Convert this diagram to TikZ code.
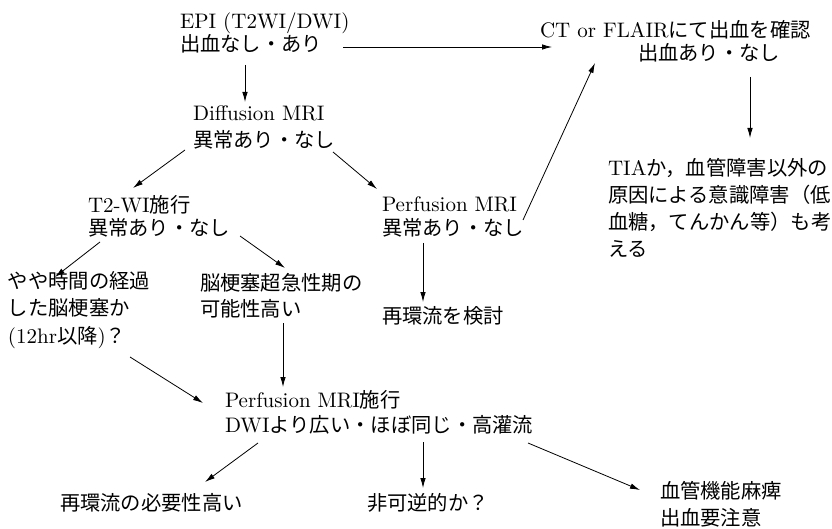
\documentclass[tikz,border=0pt]{standalone}
\usepackage{fontspec}
\setmainfont{lmroman10-regular.otf}
\newfontfamily\cjk{Noto Sans CJK JP}[Scale=0.967]
\newcommand{\jp}[1]{{\cjk #1}}
\usetikzlibrary{calc,arrows.meta}
\tikzset{
  txt/.style={inner sep=0pt, outer sep=0pt, align=left, anchor=base west,
    font=\fontsize{21}{#1}\selectfont},
  txt/.default=27,
  arr/.style={line width=0.8pt, -{Latex[length=10pt,width=5.5pt]}}
}
\begin{document}
\begin{tikzpicture}[x=1pt,y=-1pt]
\useasboundingbox (0,0) rectangle (832,529);
% nodes (anchored at the baseline of their last line)
\node[txt=22] (epi) at (180,52) {EPI (T2WI/DWI)\\\jp{出血なし・あり}};
\node[txt=23] (ct) at (540,61) {CT or FLAIR\jp{にて出血を確認}\\\hspace*{98pt}\jp{出血あり・なし}};
\node[txt=27] (diff) at (193,148) {Diffusion MRI\\\jp{異常あり・なし}};
\node[txt=23] (t2) at (88,236) {T2-WI\jp{施行}\\\jp{異常あり・なし}};
\node[txt=24] (perf) at (382,236) {Perfusion MRI\\\jp{異常あり・なし}};
\node[txt=27.5] (yaya) at (8,343) {\jp{やや時間の経過}\\\jp{した脳梗塞か}\\(12hr\jp{以降})\jp{？}};
\node[txt=26] (nou) at (200,316) {\jp{脳梗塞超急性期の}\\\jp{可能性高い}};
\node[txt] (kentou) at (382,323) {\jp{再環流を検討}};
\node[txt=27] (tia) at (608,257) {TIA\jp{か，血管障害以外の}\\\jp{原因による意識障害（低}\\\jp{血糖，てんかん等）も考}\\\jp{える}};
\node[txt=25] (perf2) at (225,432) {Perfusion MRI\jp{施行}\\DWI\jp{より広い・ほぼ同じ・高灌流}};
\node[txt] (hitsuyou) at (60,510) {\jp{再環流の必要性高い}};
\node[txt] (fuka) at (367,510) {\jp{非可逆的か？}};
\node[txt=27] (kekkan) at (660,525) {\jp{血管機能麻痺}\\\jp{出血要注意}};
% connectors
\draw[arr] ($(epi.base west)+(163,-5)$) -- ($(ct.base west)+(12,-14)$);
\draw[arr] ($(epi.base west)+(65,13)$) -- ($(diff.base west)+(52,-46)$);
\draw[arr] ($(diff.base west)+(-8,2)$) -- ($(t2.base west)+(45,-48)$);
\draw[arr] ($(diff.base west)+(140,4)$) -- ($(perf.base west)+(-5,-47)$);
\draw[arr] ($(t2.base west)+(12,6)$) -- ($(yaya.base west)+(47,-66)$);
\draw[arr] ($(t2.base west)+(152,0)$) -- ($(nou.base west)+(85,-48)$);
\draw[arr] ($(nou.base west)+(83,7)$) -- ($(perf2.base west)+(58,-45)$);
\draw[arr] ($(yaya.base west)+(122,14)$) -- ($(perf2.base west)+(-22,-29)$);
\draw[arr] ($(perf.base west)+(41,7)$) -- ($(kentou.base west)+(41,-21)$);
\draw[arr] ($(perf.base west)+(141,-16)$) -- ($(ct.base west)+(55,2)$);
\draw[arr] ($(ct.base west)+(210,16)$) -- ($(tia.base west)+(142,-119)$);
\draw[arr] ($(perf2.base west)+(33,11)$) -- ($(hitsuyou.base west)+(145,-28)$);
\draw[arr] ($(perf2.base west)+(198,10)$) -- ($(fuka.base west)+(56,-22)$);
\draw[arr] ($(perf2.base west)+(303,11)$) -- ($(kekkan.base west)+(-20,-35)$);
\end{tikzpicture}
\end{document}
